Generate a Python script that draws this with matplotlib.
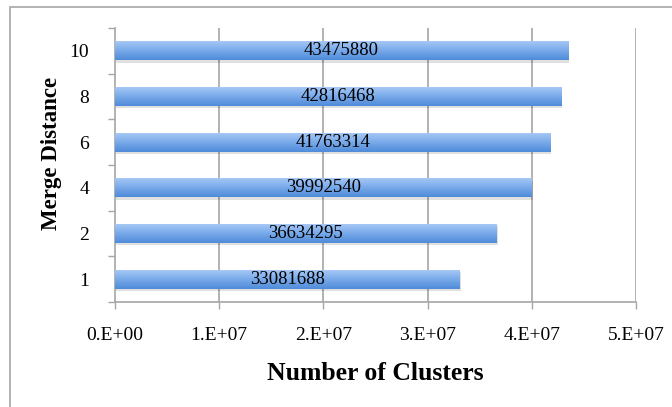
# Horizontal bar chart: number of clusters per merge distance
import matplotlib
matplotlib.use("Agg")
import matplotlib.pyplot as plt
import numpy as np
from matplotlib.patches import Rectangle
from matplotlib.colors import LinearSegmentedColormap
from matplotlib.ticker import FuncFormatter, FixedLocator

distances = ["1", "2", "4", "6", "8", "10"]
clusters = [33081688, 36634295, 39992540, 41763314, 42816468, 43475880]
x_ticks = [0, 1e7, 2e7, 3e7, 4e7, 5e7]

plt.rcParams["font.family"] = ["Liberation Serif", "DejaVu Serif"]
grey = "#a6a6a6"

fig = plt.figure(figsize=(6.72, 4.07), dpi=100)
ax = fig.add_axes([115 / 672, 1 - 302 / 407, 521 / 672, 274 / 407])

pos = np.arange(len(distances))
bar_h = 0.42

# soft drop shadow under each bar
ax.barh(pos - 0.05, clusters, height=bar_h, left=1.0e5, color="#000000",
        alpha=0.12, zorder=2, linewidth=0)
bars = ax.barh(pos, clusters, height=bar_h, color="none", zorder=3, linewidth=0)

cmap = LinearSegmentedColormap.from_list("blue", ["#4f8bd9", "#7aaaea", "#aacbf6"])
grad = np.linspace(0, 1, 64).reshape(-1, 1)
for b, v in zip(bars, clusters):
    x0, y0 = b.get_x(), b.get_y()
    im = ax.imshow(grad, extent=(x0, x0 + b.get_width(), y0, y0 + b.get_height()),
                   origin="lower", cmap=cmap, aspect="auto", zorder=3)
    im.set_clip_path(b)
    ax.text(v / 2, y0 + b.get_height() / 2, str(v), ha="center", va="center",
            fontsize=13.5, zorder=4)

ax.set_xlim(0, 5e7)
ax.set_ylim(-0.5, len(distances) - 0.5)

ax.xaxis.set_major_locator(FixedLocator(x_ticks))
ax.xaxis.set_major_formatter(FuncFormatter(
    lambda v, p: "0.E+00" if v == 0 else "%d.E+%02d" % (round(v / 10 ** int(np.log10(v))), int(np.log10(v)))))
ax.set_yticks(pos)
ax.set_yticklabels(distances)
ax.set_yticks(np.arange(-0.5, len(distances)), minor=True)

ax.tick_params(axis="x", direction="out", length=5, width=1, color=grey, pad=13, labelsize=14)
ax.tick_params(axis="y", which="major", length=0, pad=18.5, labelsize=14)
ax.tick_params(axis="y", which="minor", direction="out", length=5, width=1, color=grey)

for s in ["top", "right"]:
    ax.spines[s].set_visible(False)
for s in ["left", "bottom"]:
    ax.spines[s].set_color(grey)
    ax.spines[s].set_linewidth(1.2)

for xv in x_ticks[1:]:
    ax.axvline(xv, color=grey, linewidth=1.2, zorder=1)

ax.set_xlabel("Number of Clusters", fontsize=18.5, fontweight="bold", labelpad=13)
ax.set_ylabel("Merge Distance", fontsize=16.5, fontweight="bold")
ax.yaxis.set_label_coords(-0.102, 0.544)

# outer frame of the chart area
fig.patches.append(Rectangle((10 / 672, -0.1), 1.2, 1.1 - 7 / 407, transform=fig.transFigure,
                             fill=False, edgecolor=grey, linewidth=1.2))

fig.savefig("out.png", dpi=100)
